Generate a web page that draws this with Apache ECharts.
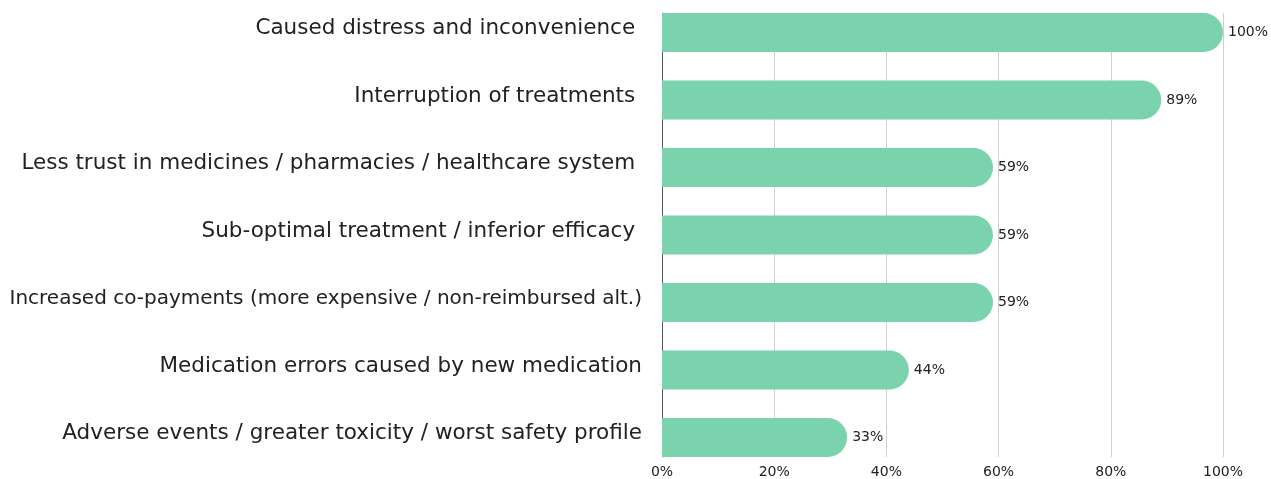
<!DOCTYPE html>
<html>
<head>
<meta charset="utf-8">
<script src="https://cdn.jsdelivr.net/npm/echarts@6/dist/echarts.min.js"></script>
<style>
html,body{margin:0;padding:0;background:#fff;}
#chart{width:1271px;height:479px;}
</style>
</head>
<body>
<div id="chart"></div>
<script>
const categories = [
  "Caused distress and inconvenience ",
  "Interruption of treatments ",
  "Less trust in medicines / pharmacies / healthcare system ",
  "Sub-optimal treatment / inferior efficacy ",
  "Increased co-payments (more expensive / non-reimbursed alt.)",
  "Medication errors caused by new medication",
  "Adverse events / greater toxicity / worst safety profile"
];
const values = [100, 89, 59, 59, 59, 44, 33];
const xTicks = [0, 20, 40, 60, 80, 100];

const FONT = "DejaVu Sans";
// the long co-payments label is set tighter in the original
const axisData = categories.map((c, i) => i === 4 ? {value: c, textStyle: {fontSize: 20}} : c);

const chart = echarts.init(document.getElementById('chart'), null, {renderer: 'canvas'});
chart.setOption({
  animation: false,
  textStyle: {fontFamily: FONT},
  grid: [
    {left: 662, right: 48, top: 13, height: 444, outerBoundsMode: 'none', containLabel: false},
    {left: 662, right: 48, top: 32.5, height: 405, outerBoundsMode: 'none', containLabel: false},
    {left: 662, right: 48, top: 28.5, height: 405, outerBoundsMode: 'none', containLabel: false}
  ],
  xAxis: [
    {
      gridIndex: 0, type: 'value', min: xTicks[0], max: xTicks[xTicks.length - 1], interval: 20,
      axisLine: {show: false}, axisTick: {show: false},
      splitLine: {show: true, lineStyle: {color: '#d0d0d0', width: 1}},
      axisLabel: {formatter: '{value}%', color: '#222', fontSize: 14, margin: 8, fontFamily: FONT}
    },
    {gridIndex: 1, type: 'value', min: 0, max: 100, show: false},
    {gridIndex: 2, type: 'value', min: 0, max: 100, show: false}
  ],
  yAxis: [
    {
      gridIndex: 0, type: 'category', data: categories, inverse: true,
      axisLine: {show: true, lineStyle: {color: '#555', width: 1}},
      axisTick: {show: false}, axisLabel: {show: false}, splitLine: {show: false}
    },
    {
      gridIndex: 1, type: 'category', data: categories, inverse: true, boundaryGap: false,
      axisLine: {show: false}, axisTick: {show: false}, axisLabel: {show: false}
    },
    {
      gridIndex: 2, type: 'category', data: axisData, inverse: true, boundaryGap: false,
      axisLine: {show: false}, axisTick: {show: false},
      axisLabel: {color: '#222', fontSize: 21.5, margin: 20, fontFamily: FONT}
    }
  ],
  series: [{
    type: 'bar', xAxisIndex: 1, yAxisIndex: 1, data: values, barWidth: 39, clip: false,
    itemStyle: {color: '#7bd3ad', borderRadius: [0, 19.5, 19.5, 0]},
    label: {show: true, position: 'right', distance: 5, formatter: '{c}%', color: '#222', fontSize: 14, fontFamily: FONT}
  }]
});
</script>
</body>
</html>
